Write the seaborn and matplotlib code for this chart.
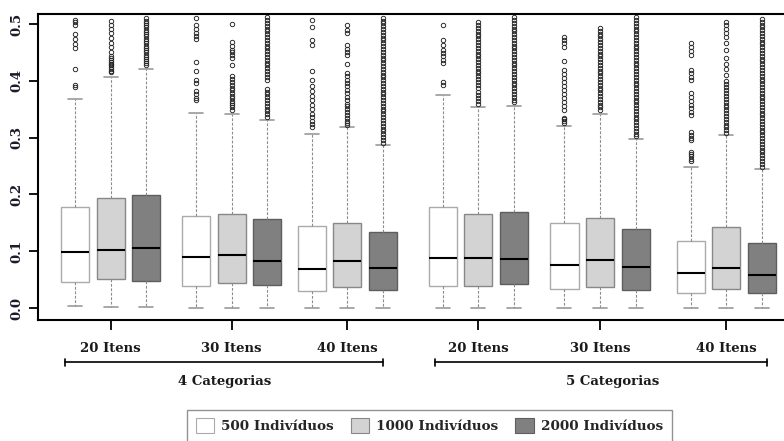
import matplotlib
matplotlib.use("Agg")
import matplotlib.pyplot as plt
from matplotlib.patches import Patch
from matplotlib.transforms import blended_transform_factory
import numpy as np
import pandas as pd
import seaborn as sns

# ---- data -----------------------------------------------------------------
categorias = ["4 Categorias", "5 Categorias"]
itens = ["20 Itens", "30 Itens", "40 Itens"]
amostras = ["500 Indivíduos", "1000 Indivíduos", "2000 Indivíduos"]

# five-number summaries, one entry per box (categoria -> itens -> amostra)
lower_whisker = [0.0035, 0.001, 0.001, 0.0, 0.0, 0.0, 0.0005, 0.0005, 0.0005,
                 0.0005, 0.0005, 0.0005, 0.0, 0.0, 0.0, 0.0, 0.0, 0.0]
first_quartile = [0.045, 0.0505, 0.048, 0.0387, 0.0446, 0.040, 0.030, 0.037, 0.031,
                  0.039, 0.039, 0.0417, 0.0335, 0.0364, 0.0317, 0.0258, 0.033, 0.027]
median = [0.099, 0.103, 0.106, 0.089, 0.0927, 0.082, 0.069, 0.083, 0.070,
          0.0886, 0.088, 0.087, 0.075, 0.0845, 0.0716, 0.062, 0.070, 0.058]
third_quartile = [0.178, 0.194, 0.199, 0.1625, 0.165, 0.157, 0.144, 0.150, 0.134,
                  0.178, 0.166, 0.169, 0.149, 0.159, 0.139, 0.1185, 0.142, 0.115]
upper_whisker = [0.368, 0.407, 0.421, 0.344, 0.342, 0.331, 0.307, 0.318, 0.287,
                 0.375, 0.354, 0.355, 0.320, 0.3415, 0.297, 0.249, 0.305, 0.244]

outliers = [
    [0.389, 0.393, 0.421, 0.458, 0.465, 0.473, 0.482, 0.498, 0.503, 0.507],
    [0.415, 0.418, 0.421, 0.424, 0.427, 0.430, 0.433, 0.436, 0.440, 0.443, 0.451,
     0.459, 0.467, 0.475, 0.484, 0.491, 0.498, 0.505],
    [0.427, 0.431, 0.435, 0.438, 0.442, 0.446, 0.450, 0.454, 0.458, 0.462, 0.466,
     0.470, 0.474, 0.478, 0.482, 0.486, 0.490, 0.494, 0.498, 0.502, 0.506, 0.510],
    [0.366, 0.370, 0.377, 0.382, 0.396, 0.401, 0.417, 0.433, 0.474, 0.479, 0.484,
     0.491, 0.498, 0.511],
    [0.349, 0.353, 0.357, 0.361, 0.365, 0.369, 0.373, 0.378, 0.383, 0.388, 0.393,
     0.398, 0.403, 0.408, 0.428, 0.440, 0.445, 0.450, 0.455, 0.461, 0.468, 0.500],
    [0.336, 0.341, 0.346, 0.351, 0.356, 0.361, 0.366, 0.371, 0.376, 0.381, 0.386,
     0.402, 0.407, 0.412, 0.417, 0.422, 0.427, 0.432, 0.437, 0.442, 0.447, 0.452,
     0.457, 0.462, 0.467, 0.472, 0.477, 0.482, 0.487, 0.492, 0.497, 0.502, 0.507,
     0.512],
    [0.319, 0.324, 0.330, 0.336, 0.342, 0.350, 0.358, 0.366, 0.374, 0.382, 0.390,
     0.401, 0.417, 0.463, 0.472, 0.495, 0.507],
    [0.322, 0.326, 0.330, 0.335, 0.340, 0.345, 0.350, 0.355, 0.360, 0.366, 0.372,
     0.378, 0.384, 0.390, 0.396, 0.402, 0.408, 0.414, 0.430, 0.445, 0.450, 0.456,
     0.463, 0.484, 0.490, 0.498],
    [0.291, 0.296, 0.301, 0.306, 0.311, 0.316, 0.321, 0.326, 0.331, 0.336, 0.341,
     0.346, 0.351, 0.356, 0.361, 0.366, 0.371, 0.376, 0.381, 0.386, 0.391, 0.396,
     0.401, 0.406, 0.411, 0.416, 0.421, 0.426, 0.431, 0.436, 0.441, 0.446, 0.451,
     0.456, 0.461, 0.466, 0.471, 0.476, 0.481, 0.486, 0.491, 0.496, 0.501, 0.506,
     0.511],
    [0.392, 0.398, 0.431, 0.437, 0.443, 0.449, 0.454, 0.463, 0.472, 0.498],
    [0.360, 0.365, 0.370, 0.375, 0.380, 0.388, 0.393, 0.398, 0.403, 0.408, 0.413,
     0.418, 0.423, 0.428, 0.433, 0.438, 0.443, 0.448, 0.453, 0.458, 0.463, 0.468,
     0.473, 0.478, 0.483, 0.488, 0.493, 0.498, 0.503],
    [0.362, 0.367, 0.372, 0.377, 0.382, 0.387, 0.392, 0.397, 0.402, 0.407, 0.412,
     0.417, 0.422, 0.427, 0.432, 0.437, 0.442, 0.447, 0.452, 0.457, 0.462, 0.467,
     0.472, 0.477, 0.482, 0.487, 0.492, 0.497, 0.502, 0.507, 0.512],
    [0.326, 0.329, 0.332, 0.335, 0.349, 0.356, 0.363, 0.370, 0.377, 0.384, 0.391,
     0.398, 0.405, 0.412, 0.419, 0.435, 0.460, 0.466, 0.471, 0.477],
    [0.348, 0.353, 0.358, 0.363, 0.368, 0.373, 0.378, 0.383, 0.388, 0.393, 0.398,
     0.403, 0.408, 0.413, 0.418, 0.423, 0.428, 0.433, 0.438, 0.443, 0.448, 0.453,
     0.458, 0.463, 0.468, 0.473, 0.478, 0.483, 0.488, 0.493],
    [0.302, 0.307, 0.312, 0.317, 0.322, 0.327, 0.332, 0.337, 0.342, 0.347, 0.352,
     0.357, 0.362, 0.367, 0.372, 0.377, 0.382, 0.387, 0.392, 0.397, 0.402, 0.407,
     0.412, 0.417, 0.422, 0.427, 0.432, 0.437, 0.442, 0.447, 0.452, 0.457, 0.462,
     0.467, 0.472, 0.477, 0.482, 0.487, 0.492, 0.497, 0.502, 0.507, 0.512],
    [0.259, 0.263, 0.268, 0.272, 0.275, 0.296, 0.300, 0.305, 0.310, 0.340, 0.345,
     0.352, 0.358, 0.365, 0.371, 0.378, 0.401, 0.407, 0.413, 0.419, 0.445, 0.452,
     0.460, 0.467],
    [0.308, 0.313, 0.318, 0.323, 0.328, 0.333, 0.338, 0.343, 0.348, 0.353, 0.358,
     0.363, 0.368, 0.373, 0.378, 0.383, 0.389, 0.394, 0.400, 0.410, 0.420, 0.430,
     0.440, 0.454, 0.467, 0.477, 0.484, 0.491, 0.498, 0.504],
    [0.249, 0.254, 0.259, 0.264, 0.269, 0.274, 0.279, 0.284, 0.289, 0.294, 0.299,
     0.304, 0.309, 0.314, 0.319, 0.324, 0.329, 0.334, 0.339, 0.344, 0.349, 0.354,
     0.359, 0.364, 0.369, 0.374, 0.379, 0.384, 0.389, 0.394, 0.399, 0.404, 0.409,
     0.414, 0.419, 0.424, 0.429, 0.434, 0.439, 0.444, 0.449, 0.454, 0.459, 0.464,
     0.469, 0.474, 0.479, 0.484, 0.489, 0.494, 0.499, 0.504, 0.509],
]

# ---- layout ---------------------------------------------------------------
# x position of the middle box of each "itens" group
group_centres = [2.0, 5.4, 8.65, 12.33, 15.75, 19.3]
box_offsets = [-1.0, 0.0, 1.0]

fill_colours = ["#ffffff", "#d3d3d3", "#808080"]
edge_colours = ["#aaaaaa", "#888888", "#5e5e5e"]

# ---- build a sample whose quartiles reproduce each summary -----------------
REP = 300
rows = []
k = 0
for gi in range(len(categorias) * len(itens)):
    for ai, amostra in enumerate(amostras):
        sample = ([lower_whisker[k]] + [first_quartile[k]] * REP + [median[k]] * REP
                  + [third_quartile[k]] * REP + [upper_whisker[k]] + outliers[k])
        pos = group_centres[gi] + box_offsets[ai]
        rows.extend((pos, v, amostra) for v in sample)
        k += 1
df = pd.DataFrame(rows, columns=["pos", "erro", "amostra"])

# ---- figure ---------------------------------------------------------------
sns.set_style("ticks")
plt.rcParams["font.family"] = ["DejaVu Serif"]
plt.rcParams["font.weight"] = "bold"

fig = plt.figure(figsize=(7.84, 4.41), dpi=100)
W, H = 784, 441
ax = fig.add_axes([38 / W, (H - 320) / H, 750 / W, 306 / H])

sns.boxplot(
    data=df, x="pos", y="erro", hue="amostra", hue_order=amostras,
    palette=fill_colours, native_scale=True, dodge=False, width=0.79,
    saturation=1, whis=1.5, legend=False, ax=ax,
    linecolor="#888888", linewidth=1.0,
    boxprops=dict(linewidth=1.0),
    medianprops=dict(color="black", linewidth=1.5),
    whiskerprops=dict(color="#8c8c8c", linewidth=0.8, linestyle=(0, (2.5, 1.5))),
    capprops=dict(color="#9a9a9a", linewidth=1.2),
    flierprops=dict(marker="o", markerfacecolor="none", markeredgecolor="#222222",
                    markersize=3.2, markeredgewidth=0.65),
)

# box outlines follow the fill shade
face_to_edge = {tuple(np.round(matplotlib.colors.to_rgb(f), 3)): e
                for f, e in zip(fill_colours, edge_colours)}
for p in ax.patches:
    key = tuple(np.round(p.get_facecolor()[:3], 3))
    if key in face_to_edge:
        p.set_edgecolor(face_to_edge[key])

ax.set_xlim(-0.04, 21.03)
ax.set_ylim(-0.0211, 0.5176)
ax.set_xlabel("")
ax.set_ylabel("")

ax.set_yticks([0.0, 0.1, 0.2, 0.3, 0.4, 0.5])
ax.set_yticklabels(["0.0", "0.1", "0.2", "0.3", "0.4", "0.5"], rotation=90,
                   va="center", fontsize=9.5, fontweight="bold", color="#1a1a2a")
ax.set_xticks(group_centres)
ax.set_xticklabels(itens * 2, fontsize=9.5, fontweight="bold", color="#1a1a1a")
ax.tick_params(axis="y", length=6.5, width=1.3, pad=4, color="black")
ax.tick_params(axis="x", length=7.5, width=1.3, pad=8, color="black")

for side in ["left", "top", "bottom"]:
    ax.spines[side].set_visible(True)
    ax.spines[side].set_linewidth(1.5)
    ax.spines[side].set_color("black")
ax.spines["right"].set_visible(False)

# category brackets below the item labels
trans = blended_transform_factory(ax.transData, fig.transFigure)
y_br = (H - 362) / H
y_lab = (H - 382) / H
brackets = [(0.72, 9.66, 5.19), (11.11, 20.43, 16.11)]
for (x0, x1, xl), cat in zip(brackets, categorias):
    ax.plot([x0, x1], [y_br, y_br], color="black", lw=1.2, transform=trans,
            clip_on=False)
    for xe in (x0, x1):
        ax.plot([xe, xe], [y_br - 3.5 / H, y_br + 3.5 / H], color="black", lw=1.2,
                transform=trans, clip_on=False)
    ax.text(xl, y_lab, cat, transform=trans, ha="center", va="center",
            fontsize=9.5, fontweight="bold", color="#1a1a1a")

handles = [Patch(facecolor=f, edgecolor=e, linewidth=0.8)
           for f, e in zip(fill_colours, edge_colours)]
fig.legend(handles, amostras, loc="upper center",
           bbox_to_anchor=(429.5 / W, (H - 410) / H), ncol=3, frameon=True,
           fancybox=False, edgecolor="#777777", borderaxespad=0,
           handlelength=1.35, handleheight=1.35, handletextpad=0.55,
           columnspacing=1.25, borderpad=0.62, prop=dict(weight="bold", size=9.7))

fig.savefig("out.png", dpi=100)
